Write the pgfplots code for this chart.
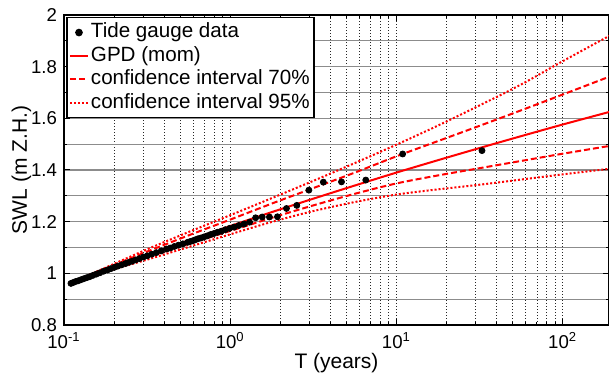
\documentclass[border=0pt]{standalone}
\usepackage{fontspec}
\setmainfont{Liberation Sans}
\usepackage{pgfplots}
\pgfplotsset{compat=1.18}

% Tide gauge maxima with plotting positions T = 16.35/(i-0.5)
\pgfplotstableread{
T       swl
32.70   1.475
10.90   1.462
6.540   1.361
4.671   1.354
3.633   1.353
2.973   1.322
2.515   1.263
2.180   1.251
1.924   1.219
1.721   1.218
1.557   1.218
1.422   1.215
1.308   1.198
1.211   1.191
1.127   1.185
1.055   1.179
0.991   1.174
0.934   1.169
0.884   1.163
0.838   1.159
0.798   1.154
0.760   1.150
0.727   1.145
0.696   1.141
0.667   1.137
0.641   1.134
0.617   1.130
0.595   1.126
0.574   1.123
0.554   1.120
0.519   1.114
0.488   1.109
0.461   1.104
0.436   1.098
0.414   1.094
0.385   1.087
0.359   1.080
0.337   1.074
0.317   1.068
0.300   1.063
0.284   1.057
0.270   1.052
0.257   1.047
0.246   1.043
0.235   1.038
0.2225  1.033
0.2110  1.028
0.2006  1.023
0.1912  1.018
0.1827  1.013
0.1730  1.008
0.1643  1.002
0.1565  0.997
0.1493  0.992
0.1428  0.987
0.1368  0.983
0.1313  0.979
0.1263  0.975
0.1216  0.971
0.1172  0.968
0.1132  0.964
0.1101  0.961
}\gauge

% GPD fit (method of moments) and confidence bounds
\pgfplotstableread{
T        fit    up70   lo70   up95   lo95
0.1101   0.963  0.963  0.963  0.963  0.963
0.17783  1.013  1.019  1.008  1.022  1.006
0.31623  1.071  1.084  1.062  1.093  1.053
0.56234  1.128  1.147  1.114  1.160  1.102
1        1.183  1.208  1.164  1.225  1.151
1.7783   1.237  1.270  1.215  1.291  1.199
3.1623   1.289  1.330  1.263  1.358  1.241
5.6234   1.340  1.390  1.308  1.427  1.276
10       1.390  1.453  1.348  1.498  1.305
17.783   1.438  1.512  1.379  1.572  1.325
31.623   1.485  1.571  1.407  1.650  1.343
56.234   1.531  1.631  1.435  1.731  1.363
100      1.576  1.692  1.463  1.821  1.383
199.53   1.628  1.766  1.495  1.926  1.406
}\gpd

\begin{document}
\begin{tikzpicture}
\begin{axis}[
  xmode=log,
  scale only axis,
  width=272.5pt, height=155pt,
  xmin=0.1, xmax=190,
  ymin=0.8, ymax=2,
  xtick={0.1,1,10,100},
  xticklabels={10\textsuperscript{-1},10\textsuperscript{0},10\textsuperscript{1},10\textsuperscript{2}},
  ytick={0.8,1,1.2,1.4,1.6,1.8,2},
  yticklabels={0.8,1,1.2,1.4,1.6,1.8,2},
  minor ytick={0.9,1.1,1.3,1.5,1.7,1.9},
  xmajorgrids, xminorgrids, ymajorgrids, yminorgrids,
  x grid style={black!85, dash pattern=on 0.5pt off 1pt, line width=0.4pt},
  y grid style={black!45, line width=0.6pt},
  axis line style={black, line width=0.8pt},
  tick style={black, line width=0.5pt},
  major tick length=3pt, minor tick length=1.5pt,
  tick label style={font=\fontsize{9.3}{11}\selectfont},
  label style={font=\fontsize{10.5}{12}\selectfont},
  xlabel={T (years)},
  ylabel={SWL (m Z.H.)},
  xlabel shift=-4.5pt,
  ylabel shift=-7pt,
  legend cell align=left,
  legend style={at={(rel axis cs:0.004,0.994)}, anchor=north west,
    draw=black, line width=0.8pt, fill=white,
    font=\fontsize{10.3}{12}\selectfont,
    inner xsep=1pt, inner ysep=1.6pt, row sep=0pt,
    nodes={inner xsep=1pt, inner ysep=0.9pt, text height=7.6pt, text depth=2.3pt}},
  legend image code/.code={\draw[mark repeat=2,mark phase=2,#1]
    plot coordinates {(0pt,0pt) (4.5pt,0pt) (9pt,0pt)};},
]
\coordinate (ll) at (rel axis cs:0,0);
\coordinate (ur) at (rel axis cs:1,1);

\addplot[only marks, mark=*, mark size=1.5pt, black, forget plot] table[x=T, y=swl] {\gauge};
\addplot[red, line width=1pt, smooth, forget plot] table[x=T, y=fit] {\gpd};
\addplot[red, line width=1pt, smooth, dash pattern=on 3pt off 1.5pt, forget plot] table[x=T, y=up70] {\gpd};
\addplot[red, line width=1pt, smooth, dash pattern=on 3pt off 1.5pt, forget plot] table[x=T, y=lo70] {\gpd};
\addplot[red, line width=1pt, smooth, dash pattern=on 1pt off 1pt, forget plot] table[x=T, y=up95] {\gpd};
\addplot[red, line width=1pt, smooth, dash pattern=on 1pt off 1pt, forget plot] table[x=T, y=lo95] {\gpd};

\addlegendimage{only marks, mark=*, mark size=1.5pt, black}
\addlegendentry{Tide gauge data}
\addlegendimage{red, line width=1pt}
\addlegendentry{GPD (mom)}
\addlegendimage{red, line width=1pt, dash pattern=on 3pt off 1.5pt}
\addlegendentry{confidence interval 70\%}
\addlegendimage{red, line width=1pt, dash pattern=on 1pt off 1pt}
\addlegendentry{confidence interval 95\%\hspace{21pt}}
\end{axis}
\pgfresetboundingbox
\path ([shift={(-32pt,-26.5pt)}]ll) rectangle ([shift={(0pt,7.5pt)}]ur);
\end{tikzpicture}
\end{document}
